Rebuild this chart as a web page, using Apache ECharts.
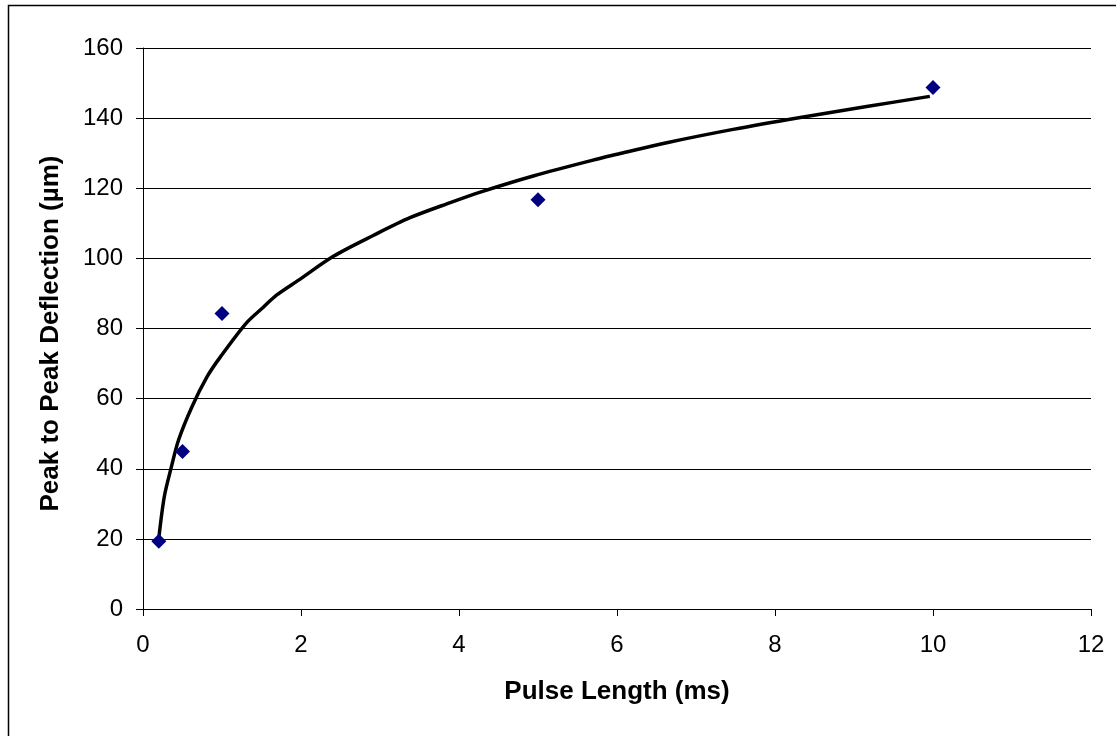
<!DOCTYPE html>
<html>
<head>
<meta charset="utf-8">
<script src="https://cdn.jsdelivr.net/npm/echarts@6/dist/echarts.min.js"></script>
<style>
html,body{margin:0;padding:0;background:#fff;}
#chart{width:1116px;height:736px;}
</style>
</head>
<body>
<div id="chart"></div>
<script>
// Measured data points
var pulseLength = [0.2, 0.5, 1, 5, 10];
var deflection = [19.3, 44.9, 84.3, 116.7, 148.7];

// Trendline
var trendX = [0.2, 0.27, 0.36, 0.45, 0.62, 0.81, 0.98, 1.31, 1.52, 1.69, 1.97, 2.41, 2.92, 3.38, 3.89, 4.27, 4.94, 5.78, 6.04, 6.63, 7.47, 8.32, 9.16, 9.96];
var trendY = [20.2, 32.1, 40.6, 48.2, 57.7, 66.2, 71.9, 81.6, 86.0, 89.5, 93.8, 100.6, 106.6, 111.6, 115.9, 118.9, 123.5, 128.5, 129.9, 133.0, 136.8, 140.2, 143.3, 146.2];

// Axis ticks
var xTicks = [0, 2, 4, 6, 8, 10, 12];
var yTicks = [0, 20, 40, 60, 80, 100, 120, 140, 160];

var pts = pulseLength.map(function(x, i){ return [x, deflection[i]]; });
var trend = trendX.map(function(x, i){ return [x, trendY[i]]; });

var font = '"Liberation Sans", Arial, sans-serif';
var chart = echarts.init(document.getElementById('chart'), null, {renderer: 'canvas'});
chart.setOption({
  animation: false,
  backgroundColor: '#fff',
  graphic: [{
    type: 'rect',
    shape: {x: 8.5, y: 5.5, width: 1200, height: 800},
    style: {fill: 'none', stroke: '#000', lineWidth: 1.5},
    silent: true, z: -1
  }],
  grid: {left: 143, right: 25, top: 48, bottom: 127, containLabel: false},
  xAxis: {
    type: 'value',
    min: xTicks[0], max: xTicks[xTicks.length - 1], interval: 2,
    name: 'Pulse Length (ms)',
    nameLocation: 'middle', nameGap: 70,
    nameTextStyle: {fontFamily: font, fontSize: 26, fontWeight: 'bold', color: '#000'},
    axisLine: {show: true, lineStyle: {color: '#000', width: 1}},
    axisTick: {show: true, length: 7, lineStyle: {color: '#000'}},
    axisLabel: {fontFamily: font, fontSize: 24, color: '#000', margin: 24},
    splitLine: {show: false}
  },
  yAxis: {
    type: 'value',
    min: yTicks[0], max: yTicks[yTicks.length - 1], interval: 20,
    name: 'Peak to Peak Deflection (µm)',
    nameLocation: 'middle', nameGap: 79, nameRotate: 90,
    nameTextStyle: {fontFamily: font, fontSize: 26, fontWeight: 'bold', color: '#000', padding: [0, 10, 0, 0]},
    axisLine: {show: true, lineStyle: {color: '#000', width: 1}},
    axisTick: {show: true, length: 7, lineStyle: {color: '#000'}},
    axisLabel: {fontFamily: font, fontSize: 24, color: '#000', margin: 20},
    splitLine: {show: true, lineStyle: {color: '#000', width: 1}}
  },
  series: [
    {
      type: 'line',
      data: trend,
      showSymbol: false,
      smooth: 0.3,
      lineStyle: {color: '#000', width: 3.5},
      z: 2
    },
    {
      type: 'scatter',
      data: pts,
      symbol: 'diamond',
      symbolSize: 15,
      itemStyle: {color: '#000080', opacity: 1},
      z: 3
    }
  ]
});
</script>
</body>
</html>
